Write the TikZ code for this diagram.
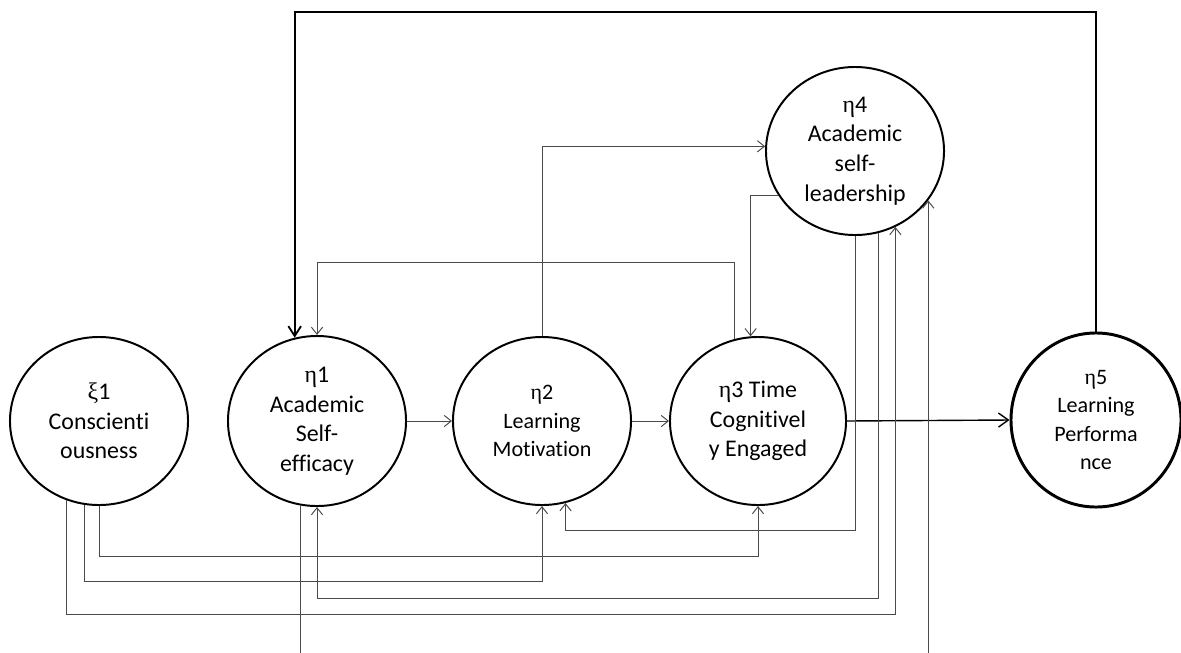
\documentclass[tikz,border=0pt]{standalone}
\usepackage{fontspec}
\setmainfont[Ligatures=NoCommon]{Carlito}
\newfontfamily\grk{Liberation Serif}
\usetikzlibrary{arrows.meta,shapes.geometric,calc}
\definecolor{semInk}{HTML}{000000}
\definecolor{semGray}{HTML}{4A4A4A}
\tikzset{
  semArrow/.style={-{Straight Barb[length=5pt,width=8pt]}, line width=0.7pt, draw=semGray},
  semLatent/.style={
    ellipse,
    draw=semInk,
    line width=1.4pt,
    align=center,
    inner sep=0pt,
    minimum width=4.45cm,
    minimum height=4.2cm,
    font=\fontsize{17}{21}\selectfont
  },
  semOutcome/.style={
    semLatent,
    line width=2.1pt,
    minimum width=4.25cm,
    minimum height=4.35cm,
    font=\fontsize{15.7}{20}\selectfont
  }
}

\begin{document}
\begin{tikzpicture}[
    x=0.025cm, y=-0.025cm,
    semMain/.style={-{Straight Barb[length=7pt,width=10pt]}, line width=1pt, draw=semInk},
    semBack/.style={-{Straight Barb[length=7pt,width=9pt]}, line width=1.3pt, draw=semInk}
  ]
  \useasboundingbox (0,0) rectangle (1181,652);

  % latent variables
  \node[semLatent] (xi1) at (99,421) {{\grk ξ}1\\Conscienti\\ousness};
  \node[semLatent, minimum height=4.25cm] (eta1) at (317,421) {{\grk η}1\\Academic\\Self-\\efficacy};
  \node[semLatent, font=\fontsize{15.7}{20}\selectfont] (eta2) at (542,421) {{\grk η}2\\Learning\\Motivation};
  \node[semLatent, minimum width=4.4cm] (eta3) at (758,421) {{\grk η}3 Time\\Cognitivel\\y Engaged};
  \node[semLatent] (eta4) at (855,151) {{\grk η}4\\Academic\\self-\\leadership};
  \node[semOutcome] (eta5) at (1096,420) {{\grk η}5\\Learning\\Performa\\nce};

  % main chain
  \draw[semArrow] (eta1.east) -- (eta2.west);
  \draw[semArrow] (eta2.east) -- (eta3.west);
  \draw[semMain] (eta3.east) -- (eta5.west);

  % upper paths
  \draw[semBack] (eta5.north) |- (eta1.105 |- 0,12) -- (eta1.105);
  \draw[semArrow] (eta3.106) |- (eta1.north |- 0,262) -- (eta1.north);
  \draw[semArrow] (eta2.north) |- (eta4.177);
  \draw[semArrow] (eta4.210) -| (eta3.95);

  % lower paths
  \draw[semArrow] (xi1.south) |- (eta3.south |- 0,556) -- (eta3.south);
  \draw[semArrow] (xi1.260) |- (eta2.south |- 0,581) -- (eta2.south);
  \draw[semArrow] (xi1.248) |- (eta4.298 |- 0,614) -- (eta4.298);
  \draw[semArrow] (eta1.259) |- (eta4.326 |- 0,680) -- (eta4.326);
  \draw[semArrow] (eta4.south) |- (eta2.286 |- 0,530) -- (eta2.286);
  \draw[semArrow] (eta4.286) |- (eta1.south |- 0,598) -- (eta1.south);
\end{tikzpicture}
\end{document}
